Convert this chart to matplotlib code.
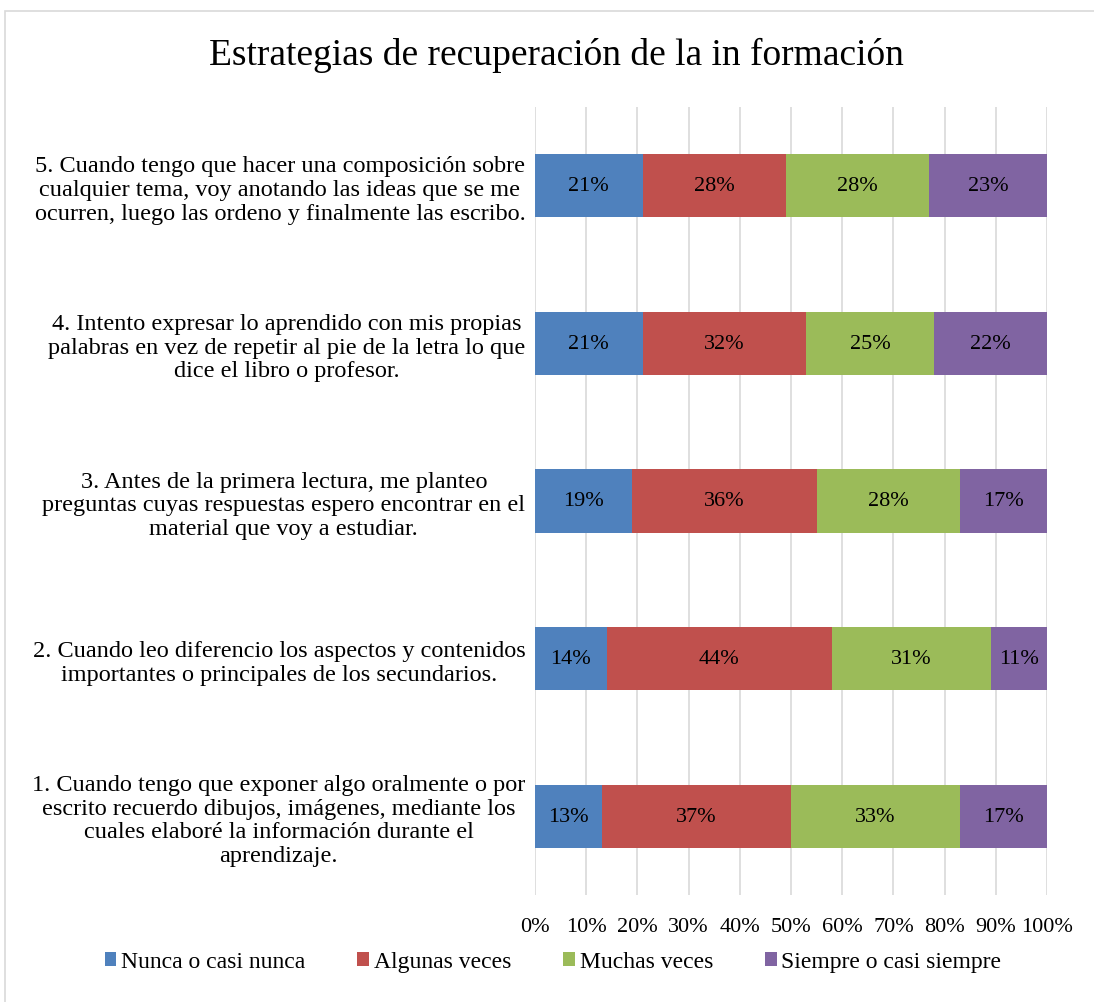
import numpy as np
import matplotlib
matplotlib.use("Agg")
import matplotlib.pyplot as plt
from matplotlib.patches import Rectangle

plt.rcParams['font.family'] = ['Liberation Serif', 'DejaVu Serif']

# datos (de abajo hacia arriba)
preguntas = [
    "1. Cuando tengo que exponer algo oralmente o por\nescrito recuerdo dibujos, imágenes, mediante los\ncuales elaboré la información durante el\naprendizaje.",
    "2. Cuando leo diferencio los aspectos y contenidos\nimportantes o principales de los secundarios.",
    "3. Antes de la primera lectura, me planteo\npreguntas cuyas respuestas espero encontrar en el\nmaterial que voy a estudiar.",
    "4. Intento expresar lo aprendido con mis propias\npalabras en vez de repetir al pie de la letra lo que\ndice el libro o profesor.",
    "5. Cuando tengo que hacer una composición sobre\ncualquier tema, voy anotando las ideas que se me\nocurren, luego las ordeno y finalmente las escribo.",
]
series = ["Nunca o casi nunca", "Algunas veces", "Muchas veces", "Siempre o casi siempre"]
nunca = [13, 14, 19, 21, 21]
algunas = [37, 44, 36, 32, 28]
muchas = [33, 31, 28, 25, 28]
siempre = [17, 11, 17, 22, 23]
colores = ['#4F81BD', '#C0504D', '#9BBB59', '#8064A2']

fs = 16

fig = plt.figure(figsize=(10.94, 10.03), dpi=100)
ax = fig.add_axes([535 / 1094, 1 - 896 / 1003, 512 / 1094, 788 / 1003])

# borde exterior
fig.patches.append(Rectangle((5 / 1094, -0.01), 1.1, 1 - 12 / 1003 + 0.01,
                             transform=fig.transFigure, fill=False,
                             edgecolor='#D9D9D9', linewidth=1.2))

y = np.arange(len(preguntas))
izq = np.zeros(len(preguntas))
for vals, nombre, col in zip([nunca, algunas, muchas, siempre], series, colores):
    vals = np.array(vals, dtype=float)
    ax.barh(y, vals / 100, left=izq, height=0.4, color=col, label=nombre, zorder=3)
    for yy, l, v in zip(y, izq, vals):
        ax.text(l + v / 200, yy, f"{int(v)}%", ha='center', va='center',
                fontsize=fs, color='black', zorder=4)
    izq += vals / 100

ax.set_xlim(0, 1)
ax.set_ylim(-0.5, 4.5)
ticks = np.arange(0, 1.01, 0.1)
ax.set_xticks(ticks)
ax.set_xticklabels([f"{int(round(t * 100))}%" for t in ticks], fontsize=fs)
ax.set_yticks(y)
ax.set_yticklabels(preguntas, fontsize=17.5, multialignment='center', linespacing=1.17)
ax.tick_params(axis='both', length=0)
ax.tick_params(axis='y', pad=7)
ax.tick_params(axis='x', pad=16)
ax.grid(axis='x', color='#D9D9D9', linewidth=1.2, zorder=0)
for s in ax.spines.values():
    s.set_visible(False)

fig.text(556 / 1094, 1 - 55 / 1003, "Estrategias de recuperación de la in formación",
         ha='center', va='center', fontsize=27)

fig.legend(loc='center', bbox_to_anchor=(553 / 1094, 1 - 963 / 1003), ncol=4,
           frameon=False, fontsize=17, handlelength=0.5, handleheight=0.5,
           handletextpad=0.2, columnspacing=2.2)

fig.savefig("out.png", dpi=100)
